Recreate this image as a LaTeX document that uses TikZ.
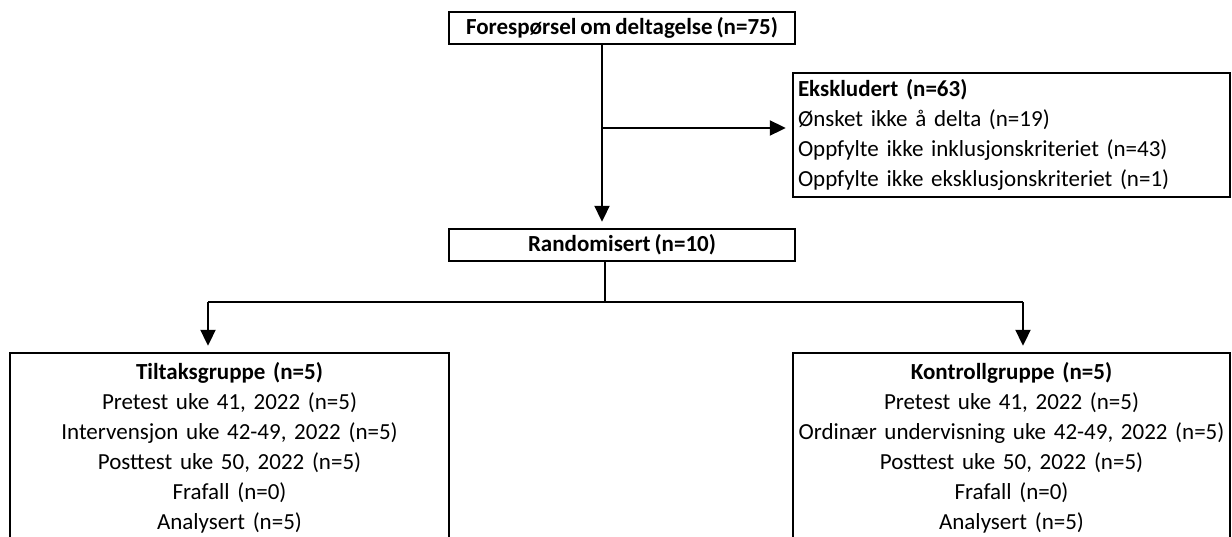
\documentclass[tikz,border=0pt]{standalone}
\usepackage{fontspec}
\setmainfont{Carlito}[WordSpace=0.75]
\usetikzlibrary{arrows.meta}
\tikzset{
  box/.style={draw=black, line width=2.4pt, fill=white, inner sep=0pt, font=\fontsize{23pt}{30pt}\selectfont},
  conn/.style={line width=2pt, draw=black},
  arr/.style={conn, -{Triangle[length=16pt,width=15pt]}, shorten >=6pt},
}
\begin{document}
\begin{tikzpicture}[x=1pt, y=-1pt]
\clip (0,0) rectangle (1232,536);
\fill[white] (0,0) rectangle (1232,536);

\node[box, minimum width=346pt, minimum height=32pt] (top) at (622,28) {\bfseries Forespørsel om deltagelse (n=75)};

\node[box, minimum width=437pt, minimum height=124pt, text width=427pt, align=left] (excl) at (1011.5,135)
  {\textbf{Ekskludert (n=63)}\\Ønsket ikke å delta (n=19)\\Oppfylte ikke inklusjonskriteriet (n=43)\\Oppfylte ikke eksklusjonskriteriet (n=1)};

\node[box, minimum width=346pt, minimum height=32pt] (rand) at (622,245) {\bfseries Randomisert (n=10)};

\node[box, minimum width=439pt, minimum height=190pt, text width=436pt, align=center] (tilt) at (229.5,448)
  {\textbf{Tiltaksgruppe (n=5)}\\Pretest uke 41, 2022 (n=5)\\Intervensjon uke 42-49, 2022 (n=5)\\Posttest uke 50, 2022 (n=5)\\Frafall (n=0)\\Analysert (n=5)};

\node[box, minimum width=437pt, minimum height=190pt, text width=434pt, align=center] (kont) at (1011.5,448)
  {\textbf{Kontrollgruppe (n=5)}\\Pretest uke 41, 2022 (n=5)\\Ordinær undervisning uke 42-49, 2022 (n=5)\\Posttest uke 50, 2022 (n=5)\\Frafall (n=0)\\Analysert (n=5)};

\coordinate (b1) at (602,128);
\coordinate (split) at (605,302);
\coordinate (la) at (208,302);
\coordinate (ra) at (1023,302);

\draw[arr] ([xshift=-20pt]top.south) -- ([xshift=-20pt]rand.north);
\draw[arr] (b1) -- (excl.west |- b1);
\draw[conn] (rand.south -| split) -- (split);
\draw[conn] (la) -- (ra);
\draw[arr] (la) -- (la |- tilt.north);
\draw[arr] (ra) -- (ra |- kont.north);
\end{tikzpicture}
\end{document}
